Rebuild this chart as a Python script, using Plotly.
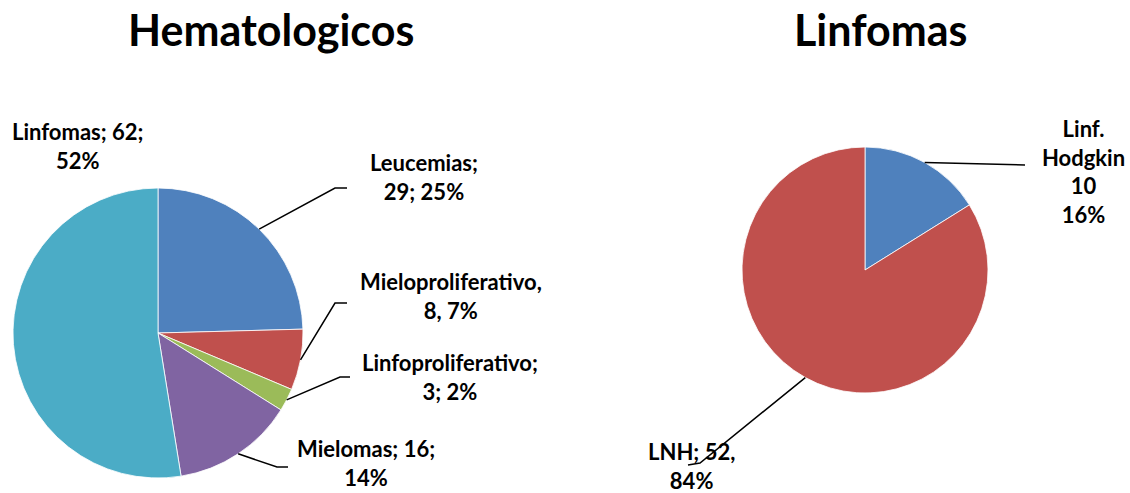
import numpy as np
import plotly.graph_objects as go

W, H = 1130, 493

# left chart: hematological cases
hema_labels = ["Leucemias", "Mieloproliferativo", "Linfoproliferativo", "Mielomas", "Linfomas"]
hema_values = [29, 8, 3, 16, 62]
hema_text = ["Leucemias;<br>29; 25%", "Mieloproliferativo,<br>8, 7%",
             "Linfoproliferativo;<br>3; 2%", "Mielomas; 16;<br>14%", "Linfomas; 62;<br>52%"]
hema_colors = ["#4F81BD", "#C0504D", "#9BBB59", "#8064A2", "#4BACC6"]

# right chart: lymphomas
linf_labels = ["Linf. Hodgkin", "LNH"]
linf_values = [10, 52]
linf_text = ["Linf.<br>Hodgkin<br>10<br>16%", "LNH; 52,<br>84%"]
linf_colors = ["#4F81BD", "#C0504D"]

FONT = "Lato"


def px2paper(x, y):
    return x / W, 1 - y / H


def domain(cx, cy, r):
    x0, y0 = px2paper(cx - r, cy + r)
    x1, y1 = px2paper(cx + r, cy - r)
    return dict(x=[x0, x1], y=[y0, y1])


def edge_points(values, cx, cy, r):
    # mid point of each slice on the rim (clockwise from 12 o'clock)
    v = np.array(values, dtype=float)
    mid = (np.cumsum(v) - v / 2) / v.sum()
    ang = np.pi / 2 - mid * 2 * np.pi
    return [(cx + r * np.cos(a), cy - r * np.sin(a)) for a in ang]


def leader(points):
    path = ""
    for i, (x, y) in enumerate(points):
        px, py = px2paper(x, y)
        path += ("M" if i == 0 else "L") + f"{px},{py} "
    return dict(type="path", xref="paper", yref="paper", path=path,
                line=dict(color="black", width=1.5))


pies = [
    dict(labels=hema_labels, values=hema_values, text=hema_text, colors=hema_colors,
         cx=158, cy=333, r=145,
         label_pos=[(424, 177), (451, 296), (450, 377), (366, 463), (77, 146)],
         elbows=[[(335, 188), (347, 188)], [(335, 303), (347, 303)],
                 [(340, 377), (350, 377)], [(277, 467), (288, 467)], None]),
    dict(labels=linf_labels, values=linf_values, text=linf_text, colors=linf_colors,
         cx=865, cy=270, r=123,
         label_pos=[(1083, 172), (691, 466)],
         elbows=[[(1025, 165)], [(700, 463), (688, 465)]]),
]

fig = go.Figure()
shapes = []
annotations = []
for p in pies:
    fig.add_trace(go.Pie(labels=p["labels"], values=p["values"], sort=False,
                         direction="clockwise", rotation=0, textinfo="none",
                         hoverinfo="label+value+percent",
                         marker=dict(colors=p["colors"], line=dict(color="white", width=0.8)),
                         domain=domain(p["cx"], p["cy"], p["r"])))
    rims = edge_points(p["values"], p["cx"], p["cy"], p["r"])
    for rim, elbow, pos, txt in zip(rims, p["elbows"], p["label_pos"], p["text"]):
        if elbow:
            shapes.append(leader([rim] + elbow))
        ax, ay = px2paper(*pos)
        annotations.append(dict(x=ax, y=ay, xref="paper", yref="paper", text=f"<b>{txt}</b>",
                                showarrow=False, xanchor="center", yanchor="middle",
                                font=dict(family=FONT, size=22, color="black")))

for title, (tx, ty) in [("Hematologicos", (271, 29)), ("Linfomas", (880, 29))]:
    x, y = px2paper(tx, ty)
    annotations.append(dict(x=x, y=y, xref="paper", yref="paper", text=f"<b>{title}</b>",
                            showarrow=False, xanchor="center", yanchor="middle",
                            font=dict(family=FONT, size=43, color="black")))

fig.update_layout(width=W, height=H, margin=dict(l=0, r=0, t=0, b=0),
                  paper_bgcolor="white", plot_bgcolor="white", showlegend=False,
                  shapes=shapes, annotations=annotations)

# drop the browser's default body margin so the figure sits at the page origin
fig.write_html("out.html", config={"displayModeBar": False},
               post_script="document.body.style.margin='0';")
